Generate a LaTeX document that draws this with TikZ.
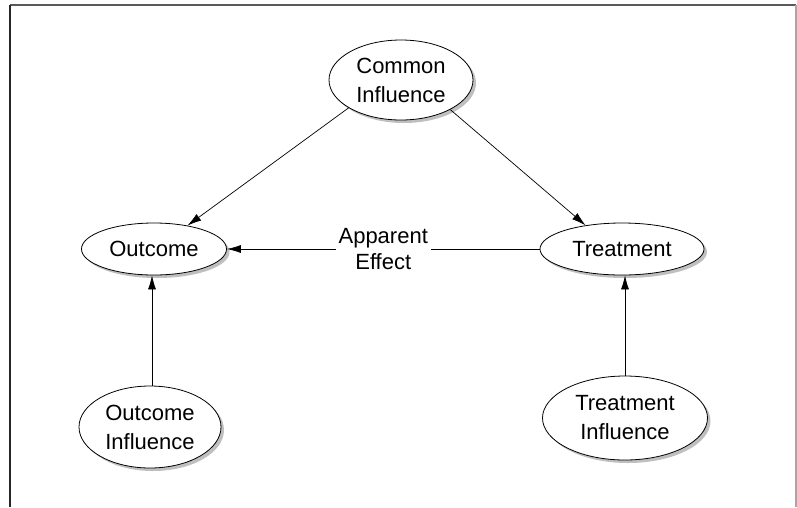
\documentclass[tikz,border=0pt]{standalone}
\usepackage{fontspec}
\setmainfont{Liberation Sans}
\usetikzlibrary{arrows.meta,shapes.geometric,shadows}
\begin{document}
\begin{tikzpicture}[x=1pt,y=-1pt,
  var/.style={ellipse, draw=black, line width=0.8pt, fill=white, inner sep=0pt,
    align=center, font=\fontsize{22}{29}\selectfont,
    drop shadow={shadow xshift=3pt, shadow yshift=-3pt, fill=gray!50, opacity=1}},
  link/.style={draw=black, line width=0.7pt, -{Latex[length=14pt,width=8pt]}},
  lbl/.style={fill=white, inner sep=3pt, align=center, font=\fontsize{22}{26}\selectfont},
  frametop/.style={draw=black!65, line width=2pt},
  frameleft/.style={draw=black!85, line width=1.6pt},
  frameright/.style={draw=black!35, line width=1.4pt},
]
\useasboundingbox (0,0) rectangle (797,507);
% frame
\coordinate (ftl) at (10,5);
\coordinate (ftr) at (796,5);
\coordinate (fbl) at (10,507);
\coordinate (fbr) at (796,507);
\draw[frametop] (ftl) -- (ftr);
\draw[frameleft] (ftl) -- (fbl);
\draw[frameright] (ftr) -- (fbr);
% nodes
\node[var, minimum width=144pt, minimum height=80pt] (ci) at (401,80) {Common\\Influence};
\node[var, minimum width=145pt, minimum height=52pt] (out) at (154,249) {Outcome};
\node[var, minimum width=164pt, minimum height=52pt] (trt) at (622,249) {Treatment};
\node[var, minimum width=142pt, minimum height=82pt] (oi) at (150,427) {Outcome\\Influence};
\node[var, minimum width=165pt, minimum height=84pt] (ti) at (625,418) {Treatment\\Influence};
% connectors
\draw[link] (ci.-152) -- (out.35);
\draw[link] (ci.-31) -- (trt.147);
\draw[link] (trt) -- (out) node[lbl, midway] (ae) {Apparent\\Effect};
\draw[link] (oi.north -| 152,0) -- (out.south -| 152,0);
\draw[link] (ti.north) -- (ti.north |- trt.south);
\end{tikzpicture}
\end{document}
